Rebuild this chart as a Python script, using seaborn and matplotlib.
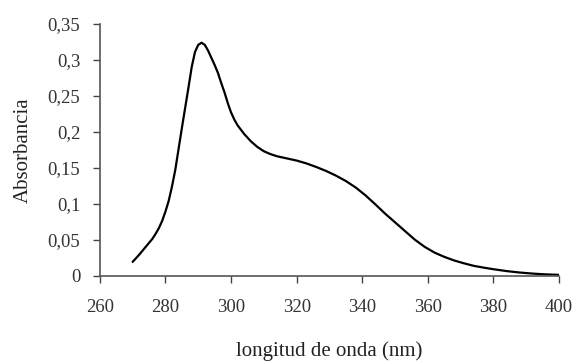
import seaborn as sns
import matplotlib.pyplot as plt
import pandas as pd

# Absorption spectrum
wavelength = [270, 272, 274, 276, 277, 278, 279, 280, 281, 282, 283, 284, 285, 286, 287, 288,
              289, 290, 291, 292, 293, 294, 295, 296, 297, 298, 299, 300, 301, 302, 303, 304,
              306, 308, 310, 312, 314, 316, 318, 320, 323, 326, 329, 332, 335, 338, 341,
              344, 347, 350, 353, 356, 359, 362, 365, 368, 371, 374, 377, 380, 384, 388,
              392, 396, 400]
absorbance = [0.019, 0.029, 0.040, 0.051, 0.058, 0.066, 0.076, 0.089, 0.104, 0.124, 0.147,
              0.176, 0.205, 0.233, 0.261, 0.290, 0.311, 0.321, 0.324, 0.321, 0.313, 0.303,
              0.293, 0.282, 0.268, 0.255, 0.240, 0.227, 0.217, 0.209, 0.203, 0.197, 0.187,
              0.179, 0.173, 0.169, 0.166, 0.164, 0.162, 0.160, 0.156, 0.151, 0.1455, 0.139,
              0.1315, 0.1225, 0.1115, 0.099, 0.086, 0.074, 0.062, 0.050, 0.040, 0.032, 0.026,
              0.021, 0.017, 0.0135, 0.011, 0.0088, 0.0062, 0.0042, 0.0027, 0.0016, 0.001]

x_ticks = [260, 280, 300, 320, 340, 360, 380, 400]
y_ticks = [0, 0.05, 0.1, 0.15, 0.2, 0.25, 0.3, 0.35]
y_tick_labels = ["0", "0,05", "0,1", "0,15", "0,2", "0,25", "0,3", "0,35"]

spectrum = pd.DataFrame({"wavelength": wavelength, "absorbance": absorbance})

sns.set_style("ticks")
plt.rcParams["font.family"] = ["Liberation Serif", "DejaVu Serif"]

fig = plt.figure(figsize=(5.77, 3.64), dpi=100)
ax = fig.add_axes([0.173, 0.243, 0.796, 0.691])
sns.lineplot(data=spectrum, x="wavelength", y="absorbance", color="black", linewidth=1.6, ax=ax)

ax.set_xlim(260, 400)
ax.set_ylim(0, 0.35)
ax.set_xticks(x_ticks)
ax.set_yticks(y_ticks)
ax.set_yticklabels(y_tick_labels)
ax.set_xlabel("longitud de onda (nm)", fontsize=15, color="#222222", labelpad=18)
ax.set_ylabel("Absorbancia", fontsize=15, color="#222222", labelpad=11)
ax.tick_params(axis="both", labelsize=13.5, colors="#444444", labelcolor="#333333",
               length=5, width=1, direction="out")
ax.tick_params(axis="x", pad=12)
ax.tick_params(axis="y", pad=9)

for side in ["top", "right"]:
    ax.spines[side].set_visible(False)
for side in ["left", "bottom"]:
    ax.spines[side].set_color("#555555")
    ax.spines[side].set_linewidth(1.2)

fig.savefig("out.png", dpi=100)
